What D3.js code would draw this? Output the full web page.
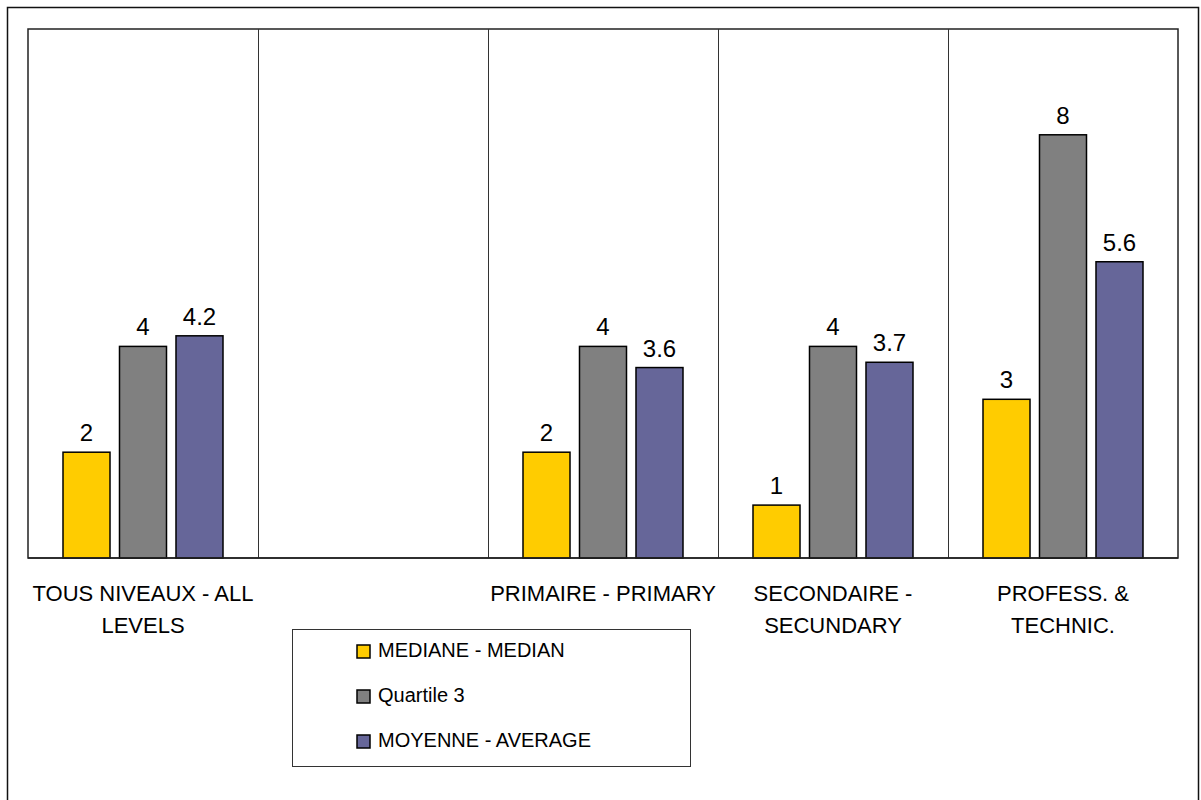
<!DOCTYPE html>
<html>
<head>
<meta charset="utf-8">
<script src="https://cdn.jsdelivr.net/npm/d3@7"></script>
<style>
  html, body { margin: 0; padding: 0; background: #fff; }
  svg { display: block; font-family: "Liberation Sans", Arial, sans-serif; }
</style>
</head>
<body>
<svg id="chart" width="1201" height="800"></svg>
<script>
// ---- data ----
const categories = ["TOUS NIVEAUX - ALL LEVELS", "", "PRIMAIRE - PRIMARY", "SECONDAIRE - SECUNDARY", "PROFESS. & TECHNIC."];
const categoryLines = [["TOUS NIVEAUX - ALL", "LEVELS"], [], ["PRIMAIRE - PRIMARY"], ["SECONDAIRE -", "SECUNDARY"], ["PROFESS. &", "TECHNIC."]];
const seriesNames = ["MEDIANE - MEDIAN", "Quartile 3", "MOYENNE - AVERAGE"];
const medianValues = [2, null, 2, 1, 3];
const quartile3Values = [4, null, 4, 4, 8];
const averageValues = [4.2, null, 3.6, 3.7, 5.6];
const valueLabels = [
  ["2", null, "2", "1", "3"],
  ["4", null, "4", "4", "8"],
  ["4.2", null, "3.6", "3.7", "5.6"]
];
const seriesColors = ["#FFCC00", "#808080", "#666699"];
const seriesValues = [medianValues, quartile3Values, averageValues];

// ---- layout ----
const svg = d3.select("#chart");
const plot = { left: 28, top: 29, right: 1178, bottom: 558 };

// outer frame
svg.append("rect").attr("x", 7.5).attr("y", 7.5).attr("width", 1191).attr("height", 800)
  .attr("fill", "#fff").attr("stroke", "#111").attr("stroke-width", 1.5);

const x0 = d3.scaleBand().domain(categories).range([plot.left, plot.right]).paddingInner(0).paddingOuter(0);
const groupWidth = 160;
const x1 = d3.scaleBand().domain(seriesNames).range([0, groupWidth]).paddingInner(0.168).paddingOuter(0);
const y = d3.scaleLinear().domain([0, 10]).range([plot.bottom, plot.top]);

// plot area
svg.append("rect").attr("x", plot.left).attr("y", plot.top)
  .attr("width", plot.right - plot.left).attr("height", plot.bottom - plot.top)
  .attr("fill", "#fff").attr("stroke", "#222").attr("stroke-width", 1.5);

// category separators
categories.slice(1).forEach(c => {
  const xx = Math.round(x0(c)) + 0.5;
  svg.append("line").attr("x1", xx).attr("x2", xx).attr("y1", plot.top).attr("y2", plot.bottom)
    .attr("stroke", "#333").attr("stroke-width", 1);
});

// bars
const gOff = (x0.bandwidth() - groupWidth) / 2;
seriesNames.forEach((s, si) => {
  categories.forEach((c, ci) => {
    const v = seriesValues[si][ci];
    if (v == null) return;
    const bx = x0(c) + gOff + x1(s);
    svg.append("rect")
      .attr("x", bx).attr("y", y(v))
      .attr("width", x1.bandwidth()).attr("height", y(0) - y(v))
      .attr("fill", seriesColors[si]).attr("stroke", "#000").attr("stroke-width", 1.5);
    svg.append("text")
      .attr("x", bx + x1.bandwidth() / 2).attr("y", y(v) - 11)
      .attr("text-anchor", "middle").attr("font-size", 24).attr("fill", "#000")
      .text(valueLabels[si][ci]);
  });
});

// redraw baseline on top
svg.append("line").attr("x1", plot.left).attr("x2", plot.right).attr("y1", plot.bottom).attr("y2", plot.bottom)
  .attr("stroke", "#222").attr("stroke-width", 1.5);

// category labels
categories.forEach((c, ci) => {
  const cx = x0(c) + x0.bandwidth() / 2;
  categoryLines[ci].forEach((line, li) => {
    svg.append("text").attr("x", cx).attr("y", 601 + li * 32)
      .attr("text-anchor", "middle").attr("font-size", 22).attr("fill", "#000")
      .text(line);
  });
});

// legend
const legend = svg.append("g");
legend.append("rect").attr("x", 292.5).attr("y", 629.5).attr("width", 398).attr("height", 137)
  .attr("fill", "#fff").attr("stroke", "#333").attr("stroke-width", 1);
seriesNames.forEach((s, i) => {
  const base = 657 + i * 45;
  legend.append("rect").attr("x", 357).attr("y", base - 12).attr("width", 13).attr("height", 13)
    .attr("fill", seriesColors[i]).attr("stroke", "#000").attr("stroke-width", 1.5);
  legend.append("text").attr("x", 378).attr("y", base).attr("font-size", 20).attr("fill", "#000").text(s);
});
</script>
</body>
</html>
